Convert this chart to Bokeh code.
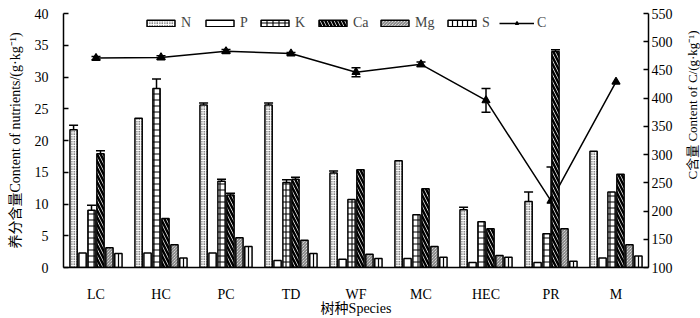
import math
from bokeh.plotting import figure
from bokeh.layouts import row
from bokeh.models import (Range1d, LinearAxis, Legend, LegendItem, Whisker, Label,
                          ColumnDataSource, FactorRange, TeeHead, FixedTicker)
from bokeh.transform import dodge
from bokeh.embed import file_html
from bokeh.resources import INLINE

species = ["LC", "HC", "PC", "TD", "WF", "MC", "HEC", "PR", "M"]
N  = [21.7, 23.5, 25.6, 25.6, 14.9, 16.8, 9.1, 10.4, 18.3]
P  = [2.3, 2.3, 2.3, 1.1, 1.3, 1.4, 0.8, 0.8, 1.5]
K  = [9.0, 28.2, 13.6, 13.4, 10.7, 8.3, 7.2, 5.3, 11.9]
Ca = [17.9, 7.7, 11.4, 13.9, 15.4, 12.4, 6.1, 34.0, 14.7]
Mg = [3.1, 3.6, 4.7, 4.3, 2.1, 3.3, 1.9, 6.1, 3.6]
S  = [2.2, 1.5, 3.3, 2.2, 1.4, 1.6, 1.6, 1.0, 1.8]
N_err  = [0.7, 0, 0.3, 0.3, 0.3, 0, 0.4, 1.5, 0]
K_err  = [0.8, 1.5, 0.3, 0.4, 0, 0, 0, 0, 0]
Ca_err = [0.5, 0, 0.3, 0.3, 0, 0, 0, 0.3, 0]
C      = [471, 472, 483, 479, 446, 460, 396, 218, 429]
C_err  = [3, 3, 3, 2, 8, 4, 21, 60, 0]

SERIF = "Liberation Serif, Noto Sans CJK SC"

p = figure(width=678, height=318, x_range=FactorRange(*species),
           y_range=Range1d(0, 40), output_backend="svg", toolbar_location=None,
           min_border_left=63, min_border_right=30, min_border_top=13,
           min_border_bottom=49)
p.extra_y_ranges = {"c": Range1d(100, 550)}
p.outline_line_color = None
p.grid.visible = False
p.background_fill_color = "white"
p.border_fill_color = "white"

for ax in [p.yaxis[0], p.xaxis[0]]:
    ax.axis_line_width = 1.5
    ax.axis_line_color = "black"
    ax.major_tick_line_width = 1.5
    ax.minor_tick_line_color = None
    ax.major_label_text_font = SERIF
    ax.major_label_text_font_size = "14px"
    ax.major_label_text_color = "black"
    ax.axis_label_text_font = SERIF
    ax.axis_label_text_font_size = "14px"
    ax.axis_label_text_font_style = "normal"
    ax.axis_label_text_color = "black"

p.yaxis.ticker = FixedTicker(ticks=list(range(0, 45, 5)))
p.yaxis.major_tick_in = 5
p.yaxis.major_tick_out = 0
p.yaxis.major_label_standoff = 15
p.yaxis.axis_label = "养分含量Content of nutrients/(g·kg⁻¹)"
p.yaxis.axis_label_standoff = 9

p.xaxis.major_tick_in = 0
p.xaxis.major_tick_out = 0
p.xaxis.major_label_standoff = 19
p.xaxis.axis_label = "树种Species"
p.xaxis.axis_label_standoff = -4

rax = LinearAxis(y_range_name="c", ticker=FixedTicker(ticks=list(range(100, 551, 50))))
rax.axis_line_width = 1.5
rax.major_tick_line_width = 1.5
rax.major_tick_in = 5
rax.major_tick_out = 0
rax.minor_tick_line_color = None
rax.major_label_standoff = 3
rax.major_label_text_font = SERIF
rax.major_label_text_font_size = "14px"
rax.major_label_text_color = "black"
p.add_layout(rax, "right")

csrc = ColumnDataSource(dict(x=species, y=C))
cline = p.line("x", "y", source=csrc, y_range_name="c", line_color="black", line_width=1.5)
cmark = p.scatter("x", "y", source=csrc, y_range_name="c", marker="triangle", size=8,
                  fill_color="black", line_color="black", line_width=1.2)
ce = [i for i, e in enumerate(C_err) if e > 0]
cesrc = ColumnDataSource(dict(x=[species[i] for i in ce], lo=[C[i] - C_err[i] for i in ce],
                              hi=[C[i] + C_err[i] for i in ce]))
p.add_layout(Whisker(base="x", lower="lo", upper="hi", source=cesrc, y_range_name="c",
                     line_width=1.5, line_color="black",
                     upper_head=TeeHead(size=9, line_width=1.5),
                     lower_head=TeeHead(size=9, line_width=1.5)))

series = [
    ("N", N, N_err, dict(hatch_pattern="dot", hatch_scale=2.5, hatch_weight=1.6)),
    ("P", P, None, dict()),
    ("K", K, K_err, dict(hatch_pattern="cross", hatch_scale=6, hatch_weight=1.1)),
    ("Ca", Ca, Ca_err, dict(hatch_pattern="left_diagonal_line", hatch_scale=7, hatch_weight=2.5)),
    ("Mg", Mg, None, dict(hatch_pattern="left_diagonal_line", hatch_scale=3, hatch_weight=0.6)),
    ("S", S, None, dict(hatch_pattern="vertical_line", hatch_scale=5, hatch_weight=1.2)),
]
pitch = 0.138
width = 0.112
items = []
for k, (name, vals, errs, hatch) in enumerate(series):
    off = (k - 2.5) * pitch
    src = ColumnDataSource(dict(x=species, y=vals))
    r = p.vbar(x=dodge("x", off, range=p.x_range), top="y", bottom=0, width=width,
               source=src, fill_color="white", line_color="black", line_width=1.5,
               hatch_color="black", **hatch)
    items.append(LegendItem(label=name, renderers=[r]))
    if errs is not None:
        idx = [i for i, e in enumerate(errs) if e > 0]
        esrc = ColumnDataSource(dict(x=[species[i] for i in idx], lo=[vals[i] for i in idx],
                                     hi=[vals[i] + errs[i] for i in idx]))
        p.add_layout(Whisker(base=dodge("x", off, range=p.x_range), lower="lo", upper="hi",
                             source=esrc, line_width=1.5, line_color="black",
                             upper_head=TeeHead(size=9, line_width=1.5),
                             lower_head=None))
items.append(LegendItem(label="C", renderers=[cline, cmark]))

legend_x = [80, 139, 194, 252, 314, 381, 436]
for it, lx in zip(items, legend_x):
    lg = Legend(items=[it], orientation="horizontal", location=(lx, 236),
                glyph_width=35, glyph_height=8, label_standoff=3, spacing=0,
                padding=0, margin=0, border_line_color=None, background_fill_alpha=0,
                label_text_font=SERIF, label_text_font_size="14px", label_height=12,
                label_width=0)
    p.add_layout(lg, "center")

# right-hand axis title (reads bottom to top), in a narrow strip
t = figure(width=22, height=318, output_backend="svg", toolbar_location=None,
           x_range=Range1d(0, 1), y_range=Range1d(0, 1), min_border=0,
           x_axis_type=None, y_axis_type=None)
t.outline_line_color = None
t.grid.visible = False
t.add_layout(Label(x=0.62, y=0.64, text="C含量 Content of C/(g·kg⁻¹)", angle=math.pi / 2,
                   text_align="center", text_baseline="middle", text_font=SERIF,
                   text_font_size="13px", text_color="black"))

open("out.html", "w").write(file_html(row(p, t, spacing=0), INLINE))
